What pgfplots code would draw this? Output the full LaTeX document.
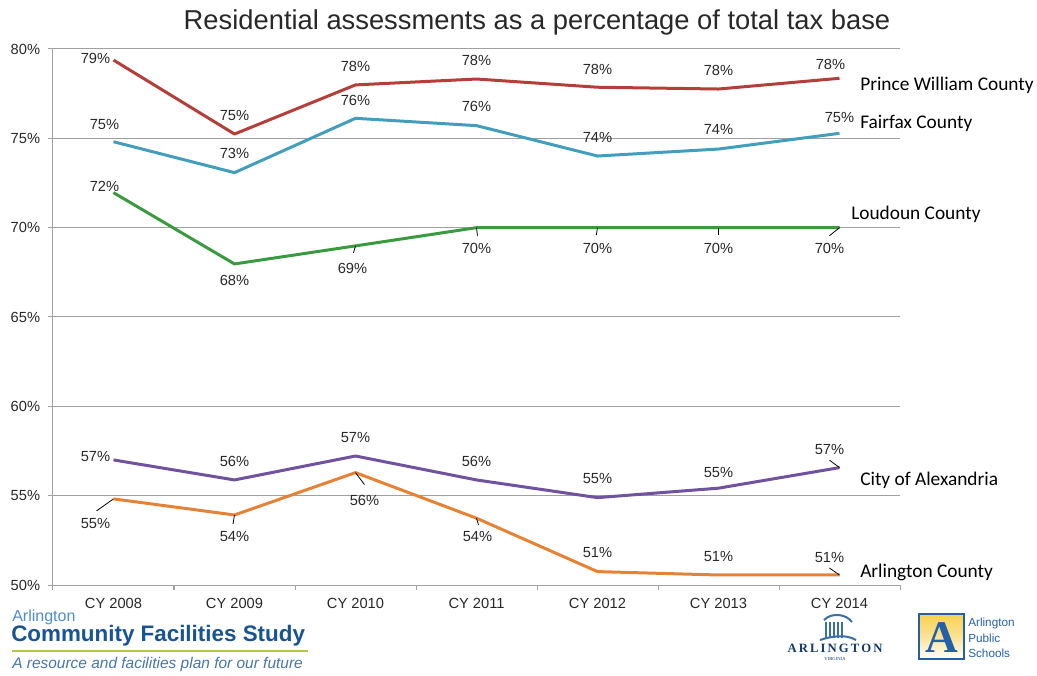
\documentclass[border=0pt]{standalone}
\usepackage{fontspec}
\setmainfont{Liberation Sans}
\newfontfamily\carlito{Carlito}
\newfontfamily\serifl{Liberation Serif}
\usepackage{pgfplots}
\usepackage{pgfplotstable}
\pgfplotsset{compat=1.18}
\definecolor{pwc}{RGB}{180,62,57}
\definecolor{ffc}{RGB}{66,158,188}
\definecolor{ldc}{RGB}{58,154,64}
\definecolor{alc}{RGB}{112,82,158}
\definecolor{arc}{RGB}{230,130,52}
\definecolor{gridc}{RGB}{160,160,160}
\definecolor{txt}{RGB}{40,40,40}
\definecolor{logob}{RGB}{24,84,146}
\definecolor{logol}{RGB}{80,140,200}
\definecolor{logog}{RGB}{180,200,70}
\definecolor{apsb}{RGB}{36,96,168}
\definecolor{apsy}{RGB}{248,208,80}

% x = category index, y = value, dx/dy = label offset (px, dy up)
\pgfplotstableread{
x y dx dy
0 79.38 -18 2
1 75.24 0 19
2 77.99 0 18
3 78.32 0 19
4 77.86 0 18
5 77.76 0 19
6 78.36 -9 14
}\pw
\pgfplotstableread{
x y dx dy
0 74.81 -9 17
1 73.08 0 19
2 76.12 0 18
3 75.71 0 19
4 74.01 0 19
5 74.40 0 20
6 75.28 0 16
}\ff
\pgfplotstableread{
x y dx dy
0 71.96 -9 6
1 67.97 0 -17
2 68.98 -3 -23
3 70.00 0 -21
4 70.00 0 -21
5 70.00 0 -21
6 70.00 -10 -21
}\ld
\pgfplotstableread{
x y dx dy
0 57.00 -18 3
1 55.88 0 18
2 57.22 0 19
3 55.88 0 18
4 54.89 0 19
5 55.42 0 16
6 56.57 -10 18
}\al
\pgfplotstableread{
x y dx dy
0 54.82 -18 -25
1 53.92 0 -22
2 56.29 9 -28
3 53.74 1 -18
4 50.75 0 19
5 50.56 0 19
6 50.56 -10 18
}\ar
% leader lines: start point and offset (data units)
\pgfplotstableread{
x y u v
2 68.98 -0.017 -0.39
3 70.00 0.008 -0.45
4 70.00 -0.01 -0.42
5 70.00 0 -0.42
6 70.00 -0.083 -0.45
6 56.57 -0.083 0.42
0 54.82 -0.14 -0.67
1 53.92 -0.012 -0.5
2 56.29 0.074 -0.67
3 53.74 0.017 -0.39
6 50.56 -0.083 0.39
}\leaders

\pgfplotsset{
  /pgf/number format/assume math mode=true,
  lbl/.style={
    line width=2.25pt, line join=round, no markers,
    nodes near coords={\pgfmathprintnumber[fixed,precision=0]{\pgfplotspointmeta}\%},
    point meta=y,
    visualization depends on={\thisrow{dx} \as \dx},
    visualization depends on={\thisrow{dy} \as \dy},
    every node near coord/.append style={anchor=center, inner sep=0pt,
      xshift={\dx*0.75pt}, yshift={\dy*0.75pt},
      font=\fontsize{11}{13}\selectfont, text=txt},
  },
}

\begin{document}
\begin{tikzpicture}
\path[use as bounding box] (0,0) rectangle (777.75pt,506.25pt);
\begin{axis}[
  at={(39.75pt,67.5pt)}, anchor=south west,
  scale only axis, width=635.25pt, height=402pt,
  xmin=-0.5, xmax=6.5, ymin=50, ymax=80,
  enlargelimits=false,
  axis x line*=bottom, axis y line*=left,
  axis line style={gridc, line width=0.75pt},
  xtick={-0.5,0.5,...,6.5},
  x tick label as interval,
  xticklabels={CY 2008,CY 2009,CY 2010,CY 2011,CY 2012,CY 2013,CY 2014},
  ytick={50,55,...,80},
  yticklabel={\pgfmathprintnumber{\tick}\%},
  tick align=outside,
  major tick length=3.5pt,
  tick style={gridc, line width=0.75pt},
  ymajorgrids,
  grid style={gridc, line width=0.75pt},
  tick label style={font=\fontsize{11}{13}\selectfont, text=txt},
  yticklabel style={anchor=east, inner sep=0pt, xshift=-6pt},
  xticklabel style={anchor=north, inner sep=0pt, yshift=-6.5pt},
  clip=false,
]
\addplot[pwc, lbl] table[x=x,y=y] {\pw};
\addplot[ffc, lbl] table[x=x,y=y] {\ff};
\addplot[ldc, lbl] table[x=x,y=y] {\ld};
\addplot[alc, lbl] table[x=x,y=y] {\al};
\addplot[arc, lbl] table[x=x,y=y] {\ar};
\addplot[black, line width=0.6pt, quiver={u=\thisrow{u}, v=\thisrow{v}}, no markers] table[x=x,y=y] {\leaders};
\end{axis}

\begin{scope}[x=0.75pt, y=-0.75pt, yshift=506.25pt]
% title
\node[text=txt, font=\fontsize{20.5}{24}\selectfont] at (537,22) {Residential assessments as a percentage of total tax base};
% series labels
\begin{scope}[every node/.style={anchor=west, inner sep=0pt, text=black, font=\carlito\fontsize{14.5}{17}\selectfont}]
\node at (860,85) {Prince William County};
\node at (860,123) {Fairfax County};
\node at (851,214) {Loudoun County};
\node at (860,480) {City of Alexandria};
\node at (860,572) {Arlington County};
\end{scope}
% left logo
\node[anchor=west, inner sep=0pt, text=logol, font=\fontsize{12}{14}\selectfont] at (12,617) {Arlington};
\node[anchor=west, inner sep=0pt, text=logob, font=\bfseries\fontsize{16.8}{19}\selectfont] at (11,636) {Community Facilities Study};
\draw[logog, line width=0.9pt] (12,651) -- (308,651);
\node[anchor=west, inner sep=0pt, text=logob!80!white, font=\itshape\fontsize{11.6}{14}\selectfont] at (12,664) {A resource and facilities plan for our future};
% Arlington Virginia logo
\begin{scope}[line width=1.5pt, logob!85!white]
\draw (824,620) .. controls (832,612) and (846,614) .. (852,622);
\foreach \xx in {826,830,834,838,842} {\draw[line width=1pt] (\xx,622) -- (\xx,638);}
\draw (820,640) .. controls (832,636) and (846,634) .. (856,640);
\end{scope}
\node[text=logob!70!black, font=\serifl\bfseries\fontsize{9.5}{11}\selectfont] at (835,648) {A\,R\,L\,I\,N\,G\,T\,O\,N};
\node[text=logob!70!black, font=\serifl\fontsize{3.5}{4}\selectfont] at (835,659) {VIRGINIA};
% APS logo
\shade[top color=apsy, bottom color=white, middle color=apsy!60!white] (919,614) rectangle (964,659);
\draw[apsb, line width=2pt] (919,614) rectangle (964,659);
\node[text=apsb, font=\serifl\bfseries\fontsize{34}{34}\selectfont] at (941.5,638) {A};
\node[anchor=west, inner sep=0pt, align=left, text=apsb, font=\fontsize{8.8}{11.6}\selectfont] at (968,638) {Arlington\\Public\\Schools};
\end{scope}
\end{tikzpicture}
\end{document}
